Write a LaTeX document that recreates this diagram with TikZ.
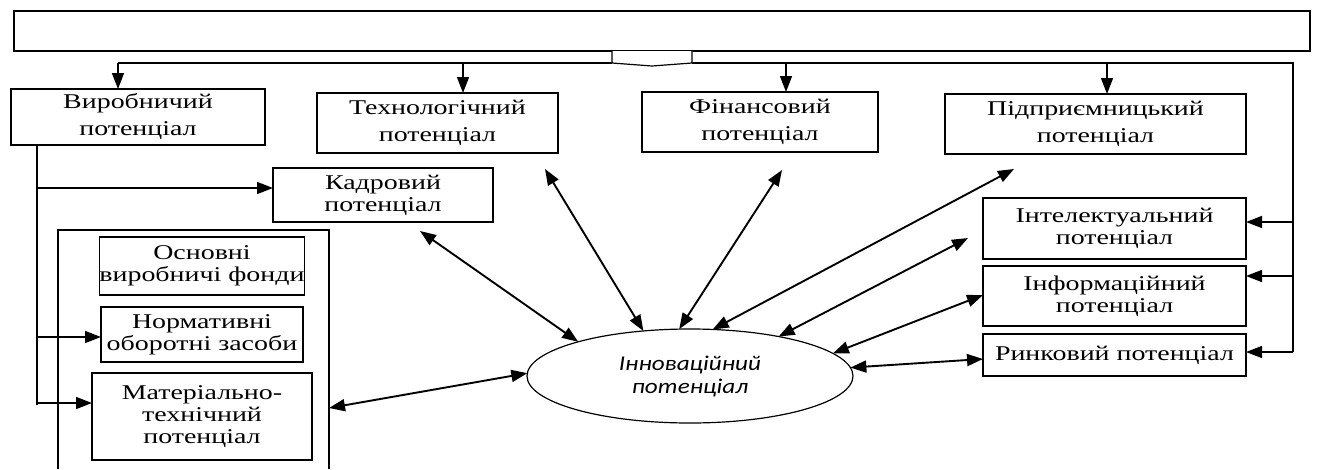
\documentclass[tikz,border=0pt]{standalone}
\usepackage{fontspec}
\setmainfont[FakeStretch=1.33]{Liberation Serif}
\newfontfamily\ellfont[FakeStretch=1.2]{Carlito}
\usetikzlibrary{arrows.meta,shapes.geometric}
\begin{document}
\begin{tikzpicture}[x=1pt,y=-1pt,
  box/.style={draw, line width=1.2pt, align=center, inner sep=0pt, outer sep=0pt, font=\fontsize{21}{22}\selectfont},
  topbox/.style={box, font=\fontsize{21}{27}\selectfont},
  conn/.style={line width=1.5pt},
  tip/.tip={Triangle[length=16pt,width=12pt]},
  arr/.style={conn, -tip},
  dbl/.style={line width=1.9pt, tip-tip}]
\useasboundingbox (0,0) rectangle (1319,469);
% top box
\node[box, minimum width=1296pt, minimum height=40pt] (top) at (662,31) {};
% first row
\node[topbox, minimum width=254pt, minimum height=56pt] (vyr) at (138,117) {Виробничий\\потенціал};
\node[topbox, minimum width=241pt, minimum height=60pt] (tech) at (437.5,123) {Технологічний\\потенціал};
\node[topbox, minimum width=236pt, minimum height=60pt] (fin) at (760,122) {Фінансовий\\потенціал};
\node[topbox, minimum width=301pt, minimum height=60pt] (pidp) at (1095.5,124) {Підприємницький\\потенціал};
% left
\node[box, minimum width=220pt, minimum height=54pt] (kadr) at (383,195) {Кадровий\\потенціал};
\node[box, minimum width=202pt, minimum height=58pt] (osn) at (202,266) {Основні\\виробничі фонди};
\node[box, minimum width=202pt, minimum height=55pt] (norm) at (202,334.5) {Нормативні\\оборотні засоби};
\node[box, minimum width=220pt, minimum height=87pt] (mat) at (202,416.5) {Матеріально-\\технічний\\потенціал};
% right
\node[box, minimum width=263pt, minimum height=61pt] (intel) at (1114.5,228.5) {Інтелектуальний\\потенціал};
\node[box, minimum width=263pt, minimum height=60pt] (inform) at (1114.5,296) {Інформаційний\\потенціал};
\node[box, minimum width=263pt, minimum height=42pt] (ryn) at (1114.5,355) {Ринковий потенціал};
% ellipse
\node[draw, ellipse, line width=1.2pt, minimum width=326pt, minimum height=94pt, inner sep=0pt, outer sep=0pt, align=center,
  font=\ellfont\itshape\fontsize{21}{23}\selectfont] (ell) at (690,376) {Інноваційний\\потенціал};
% container
\draw[line width=1.2pt] (58,469) -- (58,230) -- (329,230) -- (329,469);
% block arrow under top box
\draw[line width=1.2pt, fill=white] (612,51) -- (612,63) -- (652,66) -- (692,63) -- (692,51);
\draw[line width=2.6pt] (572,63) -- (612,63) (692,63) -- (732,63);
% distribution line
\coordinate (R) at (1293,63);
\coordinate (a1) at (118,63);
\coordinate (a2) at (463,63);
\coordinate (a3) at (786,63);
\coordinate (a4) at (1107,63);
\coordinate (r1) at (1293,222);
\coordinate (r2) at (1293,276);
\coordinate (r3) at (1293,352);
\draw[conn] (a1) -- (612,63);
\draw[conn] (692,63) -- (R) -- (r3);
\draw[arr] (r1) -- (r1 -| intel.east);
\draw[arr] (r2) -- (r2 -| inform.east);
\draw[arr] (r3) -- (r3 -| ryn.east);
\draw[arr] (a1) -- (a1 |- vyr.north);
\draw[arr] (a2) -- (a2 |- tech.north);
\draw[arr] (a3) -- (a3 |- fin.north);
\draw[arr] (a4) -- (a4 |- pidp.north);
% left tree
\coordinate (L0) at (37,145);
\coordinate (L1) at (37,188);
\coordinate (L2) at (37,337);
\coordinate (L3) at (37,403);
\coordinate (L4) at (37,405);
\draw[conn] (L0) -- (L4);
\draw[arr] (L1) -- (L1 -| kadr.west);
\draw[arr] (L2) -- (L2 -| norm.west);
\draw[arr] (L3) -- (L3 -| mat.west);
% double arrows
\coordinate (kE) at (420,231);
\coordinate (tE) at (545,169);
\coordinate (fE) at (782,170);
\coordinate (pE) at (1014,169);
\coordinate (iE) at (968,238);
\coordinate (nE) at (983,295);
\coordinate (rE) at (983,359);
\coordinate (mE) at (329,408);
\draw[dbl] (kE) -- (ell.163);
\draw[dbl] (tE) -- (ell.136);
\draw[dbl] (fE) -- (ell.103);
\draw[dbl] (pE) -- (ell.64);
\draw[dbl] (iE) -- (ell.24);
\draw[dbl] (nE) -- (ell.9);
\draw[dbl] (rE) -- (ell.3);
\draw[dbl] (mE) -- (ell.179);
\end{tikzpicture}
\end{document}
